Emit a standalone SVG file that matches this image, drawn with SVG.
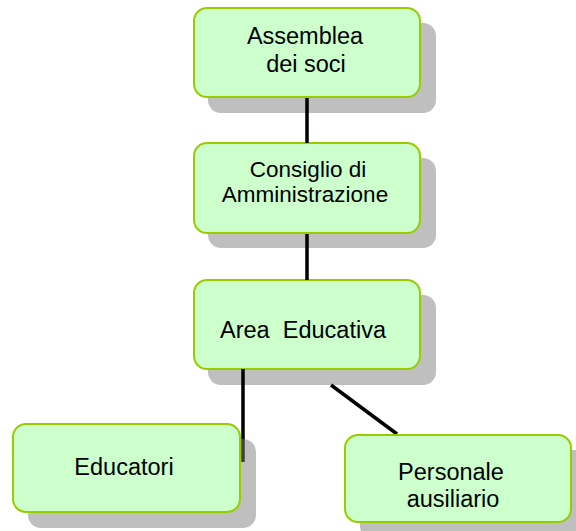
<svg xmlns="http://www.w3.org/2000/svg" width="576" height="531" viewBox="0 0 576 531">
<style>
.shadow{fill:#808080;fill-opacity:0.5}
.box{fill:#ccffcc;stroke:#99cc00;stroke-width:2}
.lbl{font-family:"Liberation Sans",Arial,sans-serif;font-size:23.5px;fill:#000;text-anchor:middle}
.conn{stroke:#000;stroke-width:3.5;fill:none}
</style>
<rect width="576" height="531" fill="#fff"/>
<g id="n-assemblea">
<rect class="shadow" x="208" y="23" width="228" height="90" rx="13"/>
<rect class="box" x="194" y="8" width="226" height="89" rx="13"/>
<text class="lbl" x="305" y="44">Assemblea</text>
<text class="lbl" x="306" y="72">dei soci</text>
</g>
<g id="n-consiglio">
<rect class="shadow" x="208" y="158" width="228" height="90" rx="13"/>
<rect class="box" x="194" y="143" width="226" height="90" rx="13"/>
<text class="lbl" x="308" y="177" style="font-size:22.5px">Consiglio di</text>
<text class="lbl" x="305" y="202" style="font-size:22.5px">Amministrazione</text>
</g>
<g id="n-area">
<rect class="shadow" x="208" y="295" width="228" height="90" rx="13"/>
<rect class="box" x="194" y="280" width="226" height="89" rx="13"/>
<text class="lbl" x="303" y="338" xml:space="preserve">Area  Educativa</text>
</g>
<g id="connectors">
<line class="conn" x1="307" y1="98" x2="307" y2="143"/>
<line class="conn" x1="307" y1="234" x2="307" y2="280"/>
<line class="conn" x1="243" y1="369" x2="243" y2="462"/>
<line class="conn" x1="331" y1="385" x2="397" y2="434"/>
</g>
<g id="n-educatori">
<rect class="shadow" x="28" y="439" width="228" height="89" rx="13"/>
<rect class="box" x="13" y="424" width="227" height="88" rx="13"/>
<text class="lbl" x="124" y="475">Educatori</text>
</g>
<g id="n-personale">
<rect class="shadow" x="360" y="450" width="228" height="89" rx="13"/>
<rect class="box" x="345" y="435" width="226" height="87" rx="13"/>
<text class="lbl" x="451" y="480">Personale</text>
<text class="lbl" x="453" y="507">ausiliario</text>
</g>
</svg>
